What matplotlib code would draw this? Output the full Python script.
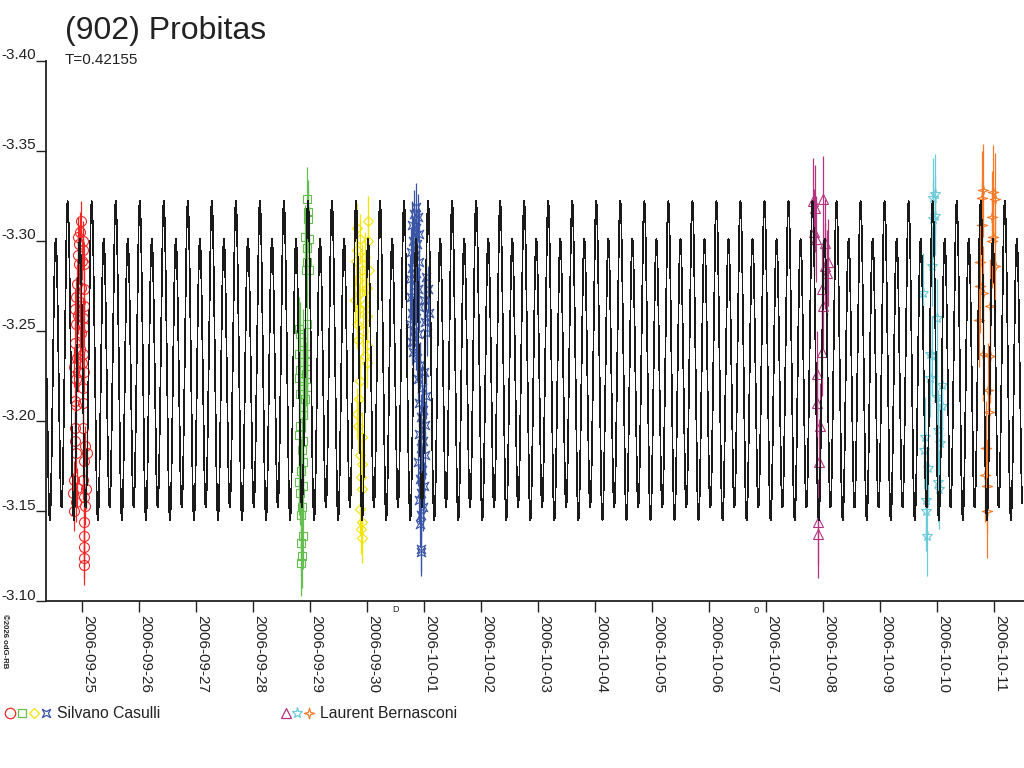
import numpy as np
import matplotlib
matplotlib.use('Agg')
import matplotlib.pyplot as plt
from matplotlib.path import Path

plt.rcParams['font.family'] = ['Liberation Sans', 'DejaVu Sans']

# ---------------- data ----------------
TITLE = "(902) Probitas"
PERIOD_LABEL = "T=0.42155"
observer_1 = "Silvano Casulli"
observer_2 = "Laurent Bernasconi"

# days counted from 2006-09-25 00:00 UT
tick_days = list(range(17))
tick_labels = ['2006-09-25', '2006-09-26', '2006-09-27', '2006-09-28', '2006-09-29',
               '2006-09-30', '2006-10-01', '2006-10-02', '2006-10-03', '2006-10-04',
               '2006-10-05', '2006-10-06', '2006-10-07', '2006-10-08', '2006-10-09',
               '2006-10-10', '2006-10-11']
ytick_values = [-3.40, -3.35, -3.30, -3.25, -3.20, -3.15, -3.10]

# Fourier model of the light curve (period in days)
model_period = 0.42155
model_epoch = -0.2456
model_mean = -3.230
model_cos = [0.0105, 0.0815]
model_sin = [0.0035, 0.0]
model_span = (-0.61, 16.50)

# observations: (day, magnitude)
red_obs = [(-0.018, -3.311), (-0.030, -3.305), (-0.060, -3.302), (0.018, -3.300), (-0.042, -3.298),
           (0.028, -3.295), (-0.060, -3.292), (0.000, -3.289), (-0.042, -3.287), (0.040, -3.287),
           (-0.088, -3.276), (-0.018, -3.274), (0.040, -3.273), (-0.100, -3.269), (-0.030, -3.266),
           (0.040, -3.264), (-0.118, -3.262), (-0.060, -3.259), (0.018, -3.257), (-0.100, -3.254),
           (0.040, -3.252), (-0.018, -3.249), (-0.118, -3.243), (-0.030, -3.240), (0.028, -3.237),
           (-0.088, -3.235), (0.000, -3.232), (-0.135, -3.230), (-0.060, -3.227), (0.040, -3.227),
           (-0.100, -3.223), (0.028, -3.218), (-0.118, -3.211), (0.018, -3.210), (-0.100, -3.209),
           (-0.118, -3.196), (0.028, -3.196), (-0.118, -3.189), (-0.100, -3.182), (0.058, -3.186),
           (0.088, -3.182), (0.040, -3.178), (-0.135, -3.167), (0.028, -3.167), (-0.088, -3.163),
           (0.075, -3.162), (-0.147, -3.160), (0.040, -3.158), (-0.100, -3.155), (-0.135, -3.150),
           (0.058, -3.153), (0.040, -3.144), (0.040, -3.136), (0.040, -3.130), (0.040, -3.124),
           (0.040, -3.120)]
green_obs = [(3.947, -3.323), (3.975, -3.316), (3.965, -3.312), (3.918, -3.302), (3.993, -3.301),
             (3.947, -3.296), (3.958, -3.288), (3.935, -3.284), (3.993, -3.284),
             (3.947, -3.254), (3.818, -3.251), (3.830, -3.248), (3.888, -3.244), (3.947, -3.237),
             (3.818, -3.237), (3.958, -3.233), (3.830, -3.228), (3.935, -3.226), (3.818, -3.224),
             (3.888, -3.222), (3.947, -3.219), (3.830, -3.215), (3.918, -3.212), (3.888, -3.203),
             (3.830, -3.197), (3.818, -3.192), (3.888, -3.189), (3.860, -3.184), (3.888, -3.177),
             (3.842, -3.172), (3.818, -3.166), (3.888, -3.164), (3.830, -3.160), (3.860, -3.152),
             (3.842, -3.148), (3.877, -3.136), (3.842, -3.132), (3.865, -3.125), (3.842, -3.121)]
yellow_obs = [(4.835, -3.307), (5.028, -3.311), (4.882, -3.301), (5.028, -3.300), (4.835, -3.295),
              (4.970, -3.291), (4.812, -3.289), (4.912, -3.284), (5.046, -3.284), (4.853, -3.278),
              (5.000, -3.274), (4.882, -3.271), (4.795, -3.267), (4.970, -3.265), (4.870, -3.262),
              (5.011, -3.258), (4.835, -3.254), (4.940, -3.250), (4.853, -3.245), (5.000, -3.242),
              (4.970, -3.236), (5.000, -3.232), (4.882, -3.222), (4.870, -3.212), (4.835, -3.204),
              (4.853, -3.197), (4.912, -3.191), (4.882, -3.181), (4.912, -3.176), (4.895, -3.169),
              (4.912, -3.162), (4.882, -3.151), (4.912, -3.144), (4.895, -3.140), (4.912, -3.135)]
blue_obs = [(5.865, -3.319), (5.830, -3.315), (5.900, -3.313), (5.795, -3.309), (5.865, -3.307),
            (5.917, -3.304), (5.812, -3.300), (5.882, -3.298), (5.777, -3.294), (5.847, -3.292),
            (5.917, -3.288), (5.795, -3.285), (5.865, -3.282), (5.760, -3.279), (5.830, -3.275),
            (5.900, -3.273), (5.777, -3.269), (5.847, -3.266), (5.917, -3.263), (5.795, -3.260),
            (5.865, -3.257), (5.760, -3.254), (5.830, -3.250), (5.900, -3.248), (5.795, -3.244),
            (5.865, -3.241), (5.812, -3.238), (5.882, -3.235),
            (6.040, -3.280), (6.075, -3.273), (6.005, -3.267), (6.093, -3.260), (6.023, -3.255),
            (6.058, -3.249),
            (5.935, -3.231), (6.005, -3.227), (5.900, -3.223), (5.970, -3.218), (6.040, -3.214),
            (5.917, -3.210), (5.988, -3.206), (5.953, -3.202), (6.023, -3.198), (5.917, -3.193),
            (5.988, -3.189), (5.953, -3.185), (6.023, -3.181), (5.900, -3.177), (5.970, -3.173),
            (5.935, -3.168), (6.005, -3.164), (5.953, -3.160), (5.917, -3.156), (5.988, -3.152),
            (5.953, -3.148), (5.935, -3.143), (5.953, -3.129), (5.953, -3.127)]
magenta_obs = [(12.835, -3.322), (13.011, -3.323), (12.865, -3.318), (12.847, -3.305), (12.882, -3.301),
               (13.040, -3.299), (13.098, -3.288), (13.040, -3.286), (13.070, -3.282), (12.982, -3.273),
               (13.000, -3.264), (12.993, -3.238), (12.895, -3.226), (12.905, -3.210), (12.953, -3.197),
               (12.940, -3.177), (12.923, -3.144), (12.923, -3.137)]
cyan_obs = [(14.970, -3.326), (14.940, -3.324), (14.970, -3.314), (14.940, -3.312), (14.912, -3.286),
            (14.754, -3.271), (15.000, -3.257), (14.882, -3.237), (14.912, -3.236), (14.882, -3.224),
            (15.088, -3.220), (15.000, -3.213), (15.088, -3.208), (15.028, -3.195), (14.795, -3.191),
            (15.058, -3.188), (14.777, -3.184), (14.853, -3.174), (15.028, -3.166), (15.046, -3.162),
            (14.812, -3.156), (14.812, -3.150), (14.835, -3.136)]
orange_obs = [(15.818, -3.328), (15.993, -3.327), (15.789, -3.324), (16.023, -3.323), (15.965, -3.313),
              (15.789, -3.309), (15.993, -3.302), (15.965, -3.300), (15.760, -3.288), (16.023, -3.286),
              (15.760, -3.275), (15.818, -3.271), (15.935, -3.264), (15.747, -3.256), (15.818, -3.237),
              (15.935, -3.236), (15.905, -3.217), (15.923, -3.205), (15.865, -3.185), (15.847, -3.170),
              (15.888, -3.164), (15.877, -3.150)]

session_errors = [0.011, 0.018, 0.014, 0.013, 0.024, 0.022, 0.026]

# ---------------- styles ----------------
TXT = '#222222'
C_RED, C_GREEN, C_YELLOW, C_BLUE = '#f02828', '#64be50', '#f2e400', '#3a55a5'
C_MAG, C_CYAN, C_ORANGE = '#b4327e', '#6ccbd9', '#f47b2a'

star4 = Path([(0, 1), (0.22, 0.22), (1, 0), (0.22, -0.22), (0, -1), (-0.22, -0.22),
              (-1, 0), (-0.22, 0.22), (0, 1)], closed=True)
xstar = Path([(1, 1), (0, 0.45), (-1, 1), (-0.45, 0), (-1, -1), (0, -0.45), (1, -1),
              (0.45, 0), (1, 1)], closed=True)

sessions = [
    (red_obs, C_RED, 'o', 7.2),
    (green_obs, C_GREEN, 's', 5.6),
    (yellow_obs, C_YELLOW, 'D', 5.0),
    (blue_obs, C_BLUE, xstar, 6.2),
    (magenta_obs, C_MAG, '^', 6.5),
    (cyan_obs, C_CYAN, '*', 8.0),
    (orange_obs, C_ORANGE, star4, 7.5),
]

W, H = 1024, 768
fig = plt.figure(figsize=(W / 100, H / 100), dpi=100)
ax = fig.add_axes([45.7 / W, 1 - 601 / H, (W - 45.7) / W, (601 - 60.7) / H])
ax.set_xlim(-0.6316, 16.532)
ax.set_ylim(-3.10, -3.40)

for s in ['top', 'right']:
    ax.spines[s].set_visible(False)
for s in ['left', 'bottom']:
    ax.spines[s].set_linewidth(1.3)
    ax.spines[s].set_color(TXT)

# observations
for (obs, col, mk, ms), err in zip(sessions, session_errors):
    tt = [p[0] for p in obs]
    mm = [p[1] for p in obs]
    ax.errorbar(tt, mm, yerr=err, fmt='none', ecolor=col, elinewidth=0.9, capsize=0, zorder=2)
    ax.plot(tt, mm, linestyle='none', marker=mk, ms=ms, mfc='none', mec=col, mew=0.8, zorder=3)

# model curve
t = np.linspace(model_span[0], model_span[1], 40000)
phi = (t - model_epoch) / model_period
m = np.full_like(t, model_mean)
for k, (a, b) in enumerate(zip(model_cos, model_sin), start=1):
    m += -a * np.cos(2 * np.pi * k * phi) + b * np.sin(2 * np.pi * k * phi)
ax.plot(t, m, color='#1a1a1a', lw=0.5, zorder=5, antialiased=False)

# ticks
ax.set_xticks(tick_days)
ax.set_xticklabels(tick_labels, rotation=-90, ha='left', va='top', fontsize=11)
ax.tick_params(axis='x', direction='out', length=8, width=1, pad=2, colors=TXT)
ax.set_yticks(ytick_values)
ax.set_yticklabels([])
ax.tick_params(axis='y', direction='out', length=7, width=1, colors=TXT)
for v in ytick_values:
    ax.annotate(f'{v:.2f}', xy=(0, v), xycoords=('axes fraction', 'data'), xytext=(-7.3, 1),
                textcoords='offset points', ha='right', va='baseline', fontsize=11,
                color=TXT, annotation_clip=False)

# overlay in pixel coordinates for texts and legend
lax = fig.add_axes([0, 0, 1, 1])
lax.set_xlim(0, W)
lax.set_ylim(H, 0)
lax.axis('off')
lax.patch.set_visible(False)

lax.text(65, 39.5, TITLE, fontsize=23, va='baseline', ha='left', color=TXT)
lax.text(65, 64, PERIOD_LABEL, fontsize=11, va='baseline', ha='left', color=TXT)
lax.text(0.5, 614, '\u00a92026 odG-RB', rotation=-90, fontsize=5.6, fontweight='bold',
         ha='left', va='top', color=TXT)
lax.text(392, 612, 'D', fontsize=6.5, va='baseline', color=TXT)
lax.text(754, 613, 'o', fontsize=7, va='baseline', color=TXT)

leg1 = [(9.5, C_RED, 'o', 7.5), (21.7, C_GREEN, 's', 5.2), (33.5, C_YELLOW, 'D', 5.2), (45.5, C_BLUE, xstar, 6.0)]
leg2 = [(286, C_MAG, '^', 6.8), (297, C_CYAN, '*', 8.0), (309, C_ORANGE, star4, 7.5)]
for x, col, mk, ms in leg1 + leg2:
    lax.plot([x], [713], linestyle='none', marker=mk, ms=ms, mfc='none', mec=col, mew=0.9)
lax.text(56.7, 718.5, observer_1, fontsize=11.3, va='baseline', ha='left', color=TXT)
lax.text(320, 718.5, observer_2, fontsize=11.3, va='baseline', ha='left', color=TXT)

fig.savefig('out.png', dpi=100)
